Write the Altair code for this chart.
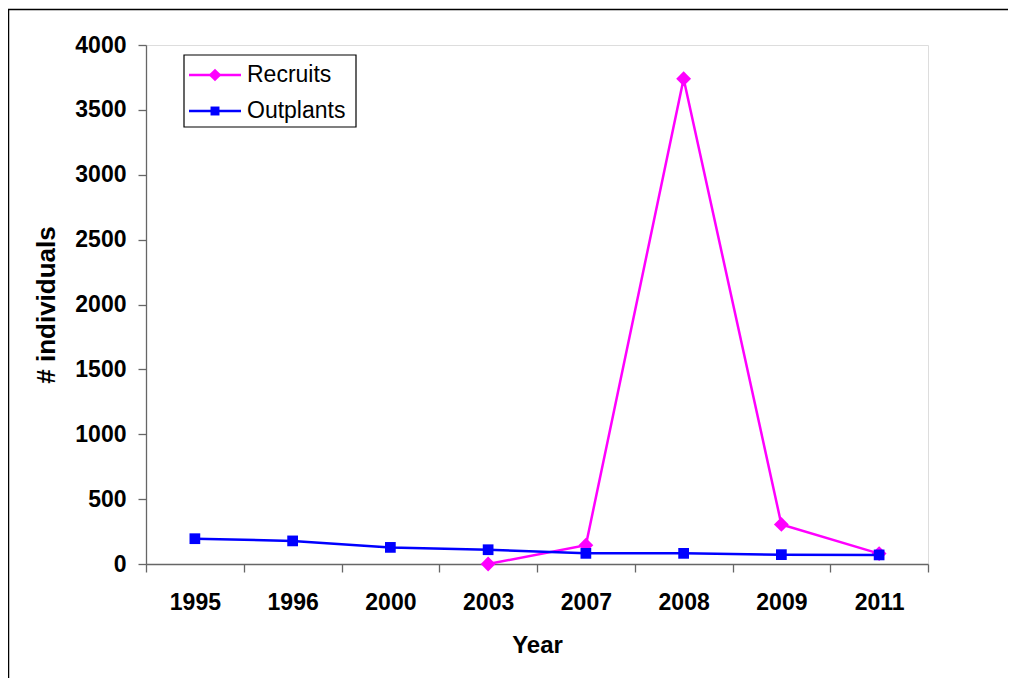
import altair as alt
import pandas as pd

years = ["1995", "1996", "2000", "2003", "2007", "2008", "2009", "2011"]
recruit_years = ["2003", "2007", "2008", "2009", "2011"]
recruits = [0, 145, 3740, 305, 80]
outplants = [195, 178, 128, 110, 82, 82, 72, 70]
series_names = ["Recruits", "Outplants"]
series_colors = ["#FF00FF", "#0000FF"]

rec_df = pd.DataFrame({"Year": recruit_years, "value": recruits, "series": "Recruits"})
out_df = pd.DataFrame({"Year": years, "value": outplants, "series": "Outplants"})

FONT = "Liberation Sans"
W, H = 782, 519

x = alt.X(
    "Year:O",
    sort=years,
    scale=alt.Scale(type="band", domain=years, paddingInner=0, paddingOuter=0),
    axis=alt.Axis(
        title="Year", tickBand="extent", labelAngle=0, labelFont=FONT, labelFontSize=23,
        labelFontWeight="bold", labelColor="black", labelPadding=19, titleFont=FONT,
        titleFontSize=24, titleFontWeight="bold", titleColor="black", titlePadding=19,
        domainColor="#666666", tickColor="#666666", tickSize=8, domainWidth=1.3, tickWidth=1.3,
    ),
)
y = alt.Y(
    "value:Q",
    scale=alt.Scale(domain=[0, 4000], nice=False),
    axis=alt.Axis(
        title="# individuals", values=list(range(0, 4001, 500)), format="d", grid=False,
        labelFont=FONT, labelFontSize=23, labelFontWeight="bold", labelColor="black",
        labelPadding=12, titleFont=FONT, titleFontSize=26, titleFontWeight="bold",
        titleColor="black", titlePadding=15, domainColor="#666666", tickColor="#666666",
        tickSize=8, domainWidth=1.3, tickWidth=1.3,
    ),
)
color = alt.Color("series:N", scale=alt.Scale(domain=series_names, range=series_colors), legend=None)

rec_line = alt.Chart(rec_df).mark_line(strokeWidth=2.5).encode(x=x, y=y, color=color)
rec_pts = alt.Chart(rec_df).mark_point(filled=True, shape="diamond", size=220, opacity=1).encode(x=x, y=y, color=color)
out_line = alt.Chart(out_df).mark_line(strokeWidth=2.5).encode(x=x, y=y, color=color)
out_pts = alt.Chart(out_df).mark_point(filled=True, shape="square", size=115, opacity=1).encode(x=x, y=y, color=color)

one = pd.DataFrame({"a": [0]})
frame = alt.Chart(one).mark_rect(filled=False, stroke="black", strokeWidth=1.5, clip=False).encode(
    x=alt.value(-137.5), x2=alt.value(W + 200), y=alt.value(-35.5), y2=alt.value(H + 200)
)

legend_box = alt.Chart(one).mark_rect(fill="white", stroke="black", strokeWidth=1.2).encode(
    x=alt.value(38), x2=alt.value(210), y=alt.value(10), y2=alt.value(82)
)
legend_layers = [legend_box]
shapes = ["diamond", "square"]
sizes = [160, 80]
for i, (name, col) in enumerate(zip(series_names, series_colors)):
    yy = 30 + 36 * i
    legend_layers.append(
        alt.Chart(one).mark_rule(color=col, strokeWidth=2.5).encode(
            x=alt.value(43), x2=alt.value(95), y=alt.value(yy)
        )
    )
    legend_layers.append(
        alt.Chart(one).mark_point(filled=True, shape=shapes[i], size=sizes[i], color=col, opacity=1).encode(
            x=alt.value(69), y=alt.value(yy)
        )
    )
    legend_layers.append(
        alt.Chart(pd.DataFrame({"t": [name]})).mark_text(
            align="left", baseline="middle", font=FONT, fontSize=23, color="black"
        ).encode(x=alt.value(101), y=alt.value(yy), text="t:N")
    )

chart = alt.layer(frame, rec_line, rec_pts, out_line, out_pts, *legend_layers).properties(
    width=W,
    height=H,
    autosize=alt.AutoSizeParams(type="none"),
    padding={"left": 138, "top": 37, "right": 80, "bottom": 114},
).configure_view(stroke=None).configure(background="white")

chart.save("out.html", embed_options={"renderer": "svg", "actions": False})
